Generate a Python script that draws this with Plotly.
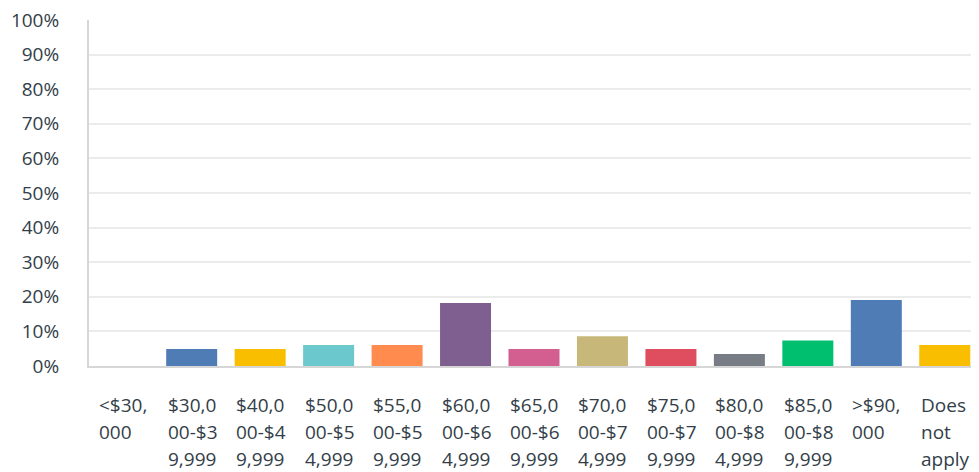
import plotly.graph_objects as go

categories = ["<$30,000", "$30,000-$39,999", "$40,000-$49,999", "$50,000-$54,999",
              "$55,000-$59,999", "$60,000-$64,999", "$65,000-$69,999", "$70,000-$74,999",
              "$75,000-$79,999", "$80,000-$84,999", "$85,000-$89,999", ">$90,000",
              "Does not apply"]
label_lines = [
    ["<$30,", "000"],
    ["$30,0", "00-$3", "9,999"],
    ["$40,0", "00-$4", "9,999"],
    ["$50,0", "00-$5", "4,999"],
    ["$55,0", "00-$5", "9,999"],
    ["$60,0", "00-$6", "4,999"],
    ["$65,0", "00-$6", "9,999"],
    ["$70,0", "00-$7", "4,999"],
    ["$75,0", "00-$7", "9,999"],
    ["$80,0", "00-$8", "4,999"],
    ["$85,0", "00-$8", "9,999"],
    [">$90,", "000"],
    ["Does", "not", "apply"],
]
values = [0, 4.9, 4.9, 6.1, 6.1, 18.2, 4.9, 8.6, 4.9, 3.5, 7.4, 19.1, 6.1]
colors = ["#507cb6", "#507cb6", "#f9be00", "#6bc8cd", "#ff8b4f", "#7f5f90", "#d25f90",
          "#c7b879", "#de4e5f", "#787d85", "#00bf6f", "#507cb6", "#f9be00"]

FONT = "Open Sans"
TXT = "#333e48"

fig = go.Figure(go.Bar(x=categories, y=values, marker_color=colors,
                       marker_line_width=0, hoverinfo="skip"))

for cat, lines in zip(categories, label_lines):
    for i, line in enumerate(lines):
        fig.add_annotation(x=cat, y=0, xref="x", yref="paper", text=line,
                           showarrow=False, xanchor="left", yanchor="middle",
                           xshift=-26, yshift=-(39 + i * 27),
                           font=dict(family=FONT, size=19, color=TXT))

# page body has an 8px margin; size the figure so the plot fills the 979x472 window
fig.update_layout(
    width=971, height=464,
    margin=dict(l=81, r=0, t=12, b=106),
    paper_bgcolor="white", plot_bgcolor="white",
    bargap=0.255, showlegend=False,
    xaxis=dict(showticklabels=False, showline=True, linecolor="#d6d6d6", linewidth=2,
               ticks="", showgrid=False, fixedrange=True),
    yaxis=dict(range=[0, 100], dtick=10, ticksuffix="%", showline=True,
               linecolor="#d6d6d6", linewidth=2, gridcolor="#ebebeb", gridwidth=2,
               zeroline=False, ticklabelstandoff=24, ticklabeloverflow="allow",
               tickfont=dict(family=FONT, size=19, color=TXT)),
)

fig.write_html("out.html")
